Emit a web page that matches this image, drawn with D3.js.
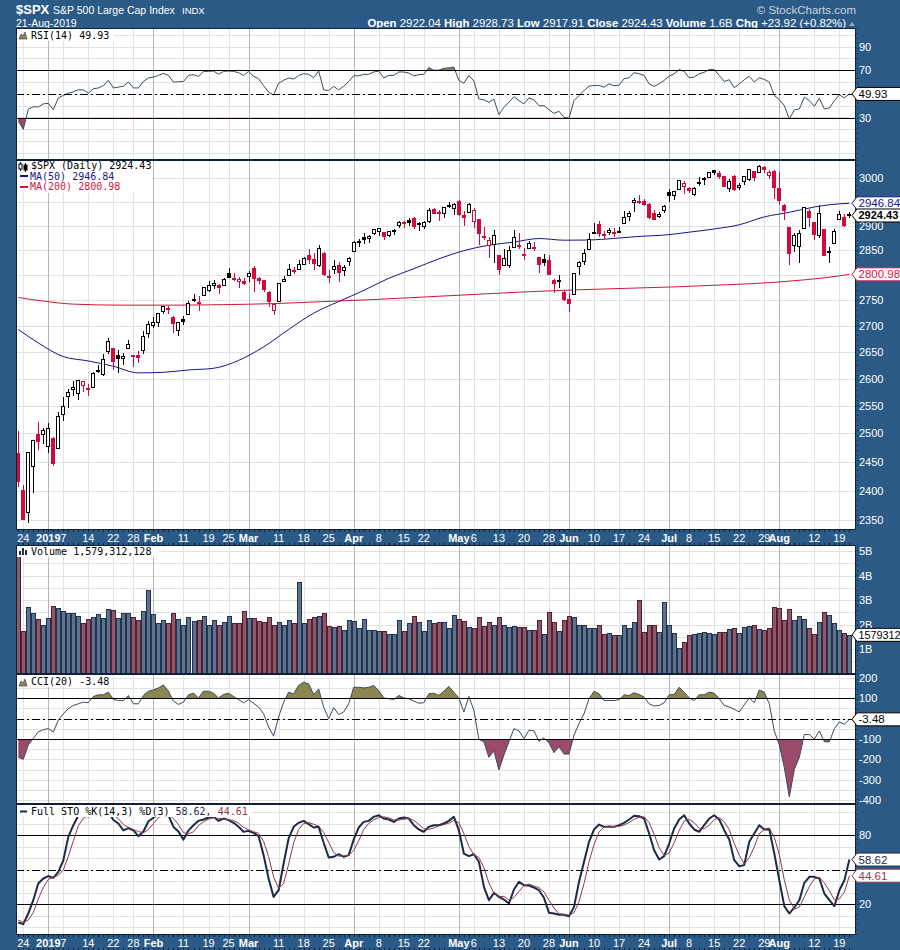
<!DOCTYPE html>
<html><head><meta charset="utf-8">
<script src="https://d3js.org/d3.v7.min.js"></script>
<style>body{margin:0;background:#fff}svg{display:block}</style>
</head><body>
<svg id="c" width="900" height="950"></svg>
<script>
// ---------------- DATA ----------------
const dates = ["2018-12-21","2018-12-24","2018-12-26","2018-12-27","2018-12-28","2018-12-31","2019-01-02","2019-01-03","2019-01-04","2019-01-07",
"2019-01-08","2019-01-09","2019-01-10","2019-01-11","2019-01-14","2019-01-15","2019-01-16","2019-01-17","2019-01-18","2019-01-22",
"2019-01-23","2019-01-24","2019-01-25","2019-01-28","2019-01-29","2019-01-30","2019-01-31","2019-02-01","2019-02-04","2019-02-05",
"2019-02-06","2019-02-07","2019-02-08","2019-02-11","2019-02-12","2019-02-13","2019-02-14","2019-02-15","2019-02-19","2019-02-20",
"2019-02-21","2019-02-22","2019-02-25","2019-02-26","2019-02-27","2019-02-28","2019-03-01","2019-03-04","2019-03-05","2019-03-06",
"2019-03-07","2019-03-08","2019-03-11","2019-03-12","2019-03-13","2019-03-14","2019-03-15","2019-03-18","2019-03-19","2019-03-20",
"2019-03-21","2019-03-22","2019-03-25","2019-03-26","2019-03-27","2019-03-28","2019-03-29","2019-04-01","2019-04-02","2019-04-03",
"2019-04-04","2019-04-05","2019-04-08","2019-04-09","2019-04-10","2019-04-11","2019-04-12","2019-04-15","2019-04-16","2019-04-17",
"2019-04-18","2019-04-22","2019-04-23","2019-04-24","2019-04-25","2019-04-26","2019-04-29","2019-04-30","2019-05-01","2019-05-02",
"2019-05-03","2019-05-06","2019-05-07","2019-05-08","2019-05-09","2019-05-10","2019-05-13","2019-05-14","2019-05-15","2019-05-16",
"2019-05-17","2019-05-20","2019-05-21","2019-05-22","2019-05-23","2019-05-24","2019-05-28","2019-05-29","2019-05-30","2019-05-31",
"2019-06-03","2019-06-04","2019-06-05","2019-06-06","2019-06-07","2019-06-10","2019-06-11","2019-06-12","2019-06-13","2019-06-14",
"2019-06-17","2019-06-18","2019-06-19","2019-06-20","2019-06-21","2019-06-24","2019-06-25","2019-06-26","2019-06-27","2019-06-28",
"2019-07-01","2019-07-02","2019-07-03","2019-07-05","2019-07-08","2019-07-09","2019-07-10","2019-07-11","2019-07-12","2019-07-15",
"2019-07-16","2019-07-17","2019-07-18","2019-07-19","2019-07-22","2019-07-23","2019-07-24","2019-07-25","2019-07-26","2019-07-29",
"2019-07-30","2019-07-31","2019-08-01","2019-08-02","2019-08-05","2019-08-06","2019-08-07","2019-08-08","2019-08-09","2019-08-12",
"2019-08-13","2019-08-14","2019-08-15","2019-08-16","2019-08-19","2019-08-20","2019-08-21"];

const open = [2465.38,2400.56,2363.12,2442.50,2498.77,2498.94,2476.96,2491.92,2474.33,2535.61,
2568.11,2580.00,2573.51,2588.11,2580.31,2585.10,2614.75,2609.28,2651.27,2657.88,
2643.48,2638.84,2657.44,2644.97,2644.89,2653.62,2685.49,2702.32,2706.49,2728.34,
2735.05,2717.53,2692.36,2712.40,2722.61,2750.30,2743.50,2760.24,2769.28,2779.05,
2780.24,2780.67,2804.35,2792.36,2787.50,2788.11,2798.22,2814.37,2794.41,2790.27,
2766.53,2730.79,2747.61,2787.34,2799.78,2810.38,2810.79,2822.61,2840.76,2831.34,
2819.72,2844.52,2796.01,2812.66,2819.72,2809.40,2828.27,2848.63,2868.24,2876.09,
2873.99,2884.16,2888.46,2886.58,2881.37,2891.92,2900.86,2908.32,2912.26,2916.04,
2904.81,2898.78,2909.99,2934.00,2928.99,2925.81,2940.58,2937.14,2952.33,2922.16,
2929.21,2908.89,2913.03,2879.61,2859.84,2863.10,2840.19,2820.12,2820.38,2855.80,
2858.60,2841.94,2854.02,2856.06,2836.70,2832.41,2830.03,2790.25,2786.94,2766.15,
2751.53,2762.64,2818.09,2828.51,2852.87,2885.83,2903.27,2882.73,2886.24,2886.82,
2889.75,2906.71,2920.55,2949.60,2952.71,2951.42,2945.78,2926.07,2919.66,2932.94,
2971.41,2964.66,2978.08,2984.25,2979.77,2965.52,2989.30,2999.62,3003.36,3017.80,
3012.13,3005.10,2978.87,3004.26,2981.93,2994.74,2998.77,3016.26,3013.25,3024.47,
3007.66,3016.22,2980.32,2943.90,2898.07,2861.18,2858.65,2896.21,2930.51,2907.07,
2880.72,2894.15,2846.20,2864.74,2913.48,2919.01,2922.04];

const high = [2504.41,2410.34,2467.76,2489.10,2520.27,2509.24,2519.49,2493.14,2538.07,2566.16,
2579.82,2595.32,2597.82,2596.27,2589.32,2613.08,2625.76,2645.06,2675.47,2657.88,
2653.19,2647.20,2672.38,2644.97,2650.93,2690.44,2708.95,2716.66,2724.99,2738.98,
2738.08,2719.32,2708.07,2718.05,2748.19,2761.85,2757.90,2775.66,2787.33,2789.88,
2781.58,2794.20,2813.49,2803.12,2795.76,2793.73,2808.02,2816.88,2796.44,2790.27,
2767.25,2744.13,2784.00,2798.32,2821.24,2815.00,2830.73,2835.41,2852.42,2843.54,
2860.31,2846.16,2809.79,2829.87,2825.56,2819.71,2836.03,2869.40,2872.90,2885.25,
2881.28,2893.24,2895.95,2886.88,2889.71,2893.42,2910.54,2909.60,2916.06,2918.00,
2908.40,2909.51,2936.31,2936.83,2933.10,2939.88,2949.52,2948.22,2954.13,2931.68,
2947.85,2937.32,2913.03,2897.96,2875.97,2891.31,2840.19,2852.54,2858.68,2892.15,
2885.48,2853.86,2868.88,2865.47,2836.70,2841.36,2840.51,2792.03,2799.00,2768.98,
2763.07,2804.49,2827.28,2852.10,2884.97,2904.77,2910.61,2888.57,2895.24,2894.45,
2897.27,2930.79,2931.74,2958.06,2964.15,2954.92,2946.52,2932.59,2929.30,2943.98,
2977.93,2973.21,2995.84,2994.03,2980.76,2981.90,3002.98,3002.33,3013.92,3017.80,
3015.02,3005.26,2998.28,3006.02,2990.71,3005.90,3019.59,3016.31,3027.98,3025.61,
3017.19,3017.40,3013.59,2945.50,2898.07,2884.40,2892.17,2938.72,2935.75,2907.58,
2943.31,2894.15,2856.67,2893.63,2931.00,2923.63,2928.73];

const low = [2408.55,2351.10,2346.58,2397.94,2472.89,2482.82,2467.47,2443.96,2474.33,2524.56,
2547.56,2568.89,2562.02,2577.40,2570.41,2585.10,2612.68,2606.36,2647.58,2617.27,
2612.86,2627.01,2657.33,2624.06,2631.05,2648.34,2678.65,2696.88,2698.75,2724.03,
2724.15,2687.26,2681.83,2703.79,2722.61,2748.63,2731.23,2760.24,2767.29,2774.06,
2764.55,2779.11,2794.99,2789.47,2775.13,2782.51,2787.38,2767.66,2782.97,2768.69,
2739.09,2722.27,2747.61,2786.73,2799.78,2803.46,2810.79,2821.99,2823.27,2812.43,
2817.38,2800.47,2785.02,2803.99,2787.72,2798.77,2819.23,2848.63,2858.75,2865.17,
2867.14,2882.99,2880.78,2873.33,2879.13,2881.99,2898.37,2896.48,2900.71,2895.45,
2891.90,2896.35,2908.53,2926.05,2912.84,2917.56,2939.35,2924.11,2923.36,2900.50,
2929.21,2898.21,2862.60,2873.28,2836.40,2825.39,2801.43,2820.12,2815.08,2855.80,
2854.23,2831.29,2854.02,2851.11,2805.49,2820.19,2801.58,2766.06,2776.74,2750.52,
2728.81,2762.64,2800.92,2822.45,2852.87,2885.51,2878.53,2874.68,2881.99,2879.62,
2887.30,2905.44,2911.43,2931.50,2946.87,2944.05,2916.01,2912.99,2918.57,2929.05,
2952.22,2955.92,2977.96,2967.97,2970.09,2963.44,2984.62,2988.80,3001.87,3008.77,
3001.15,2984.25,2973.09,2975.86,2976.65,2988.56,2996.82,2997.24,3012.59,3014.30,
3000.94,2958.08,2945.23,2914.11,2822.12,2847.42,2825.71,2894.47,2900.15,2873.14,
2877.05,2839.64,2825.51,2864.74,2913.48,2899.60,2917.91];

const close = [2416.62,2351.10,2467.70,2488.83,2485.74,2506.85,2510.03,2447.89,2531.94,2549.69,
2574.41,2584.96,2596.64,2596.26,2582.61,2610.30,2616.10,2635.96,2670.71,2632.90,
2638.70,2642.33,2664.76,2643.85,2640.00,2681.05,2704.10,2706.53,2724.87,2737.70,
2731.61,2706.05,2707.88,2709.80,2744.73,2753.03,2745.73,2775.60,2779.76,2784.70,
2774.88,2792.67,2796.11,2793.90,2792.38,2784.49,2803.69,2792.81,2789.65,2771.45,
2748.93,2743.07,2783.30,2791.52,2810.92,2808.48,2822.48,2832.94,2832.57,2824.23,
2854.88,2800.71,2798.36,2818.46,2805.37,2815.44,2834.40,2867.19,2867.24,2873.40,
2879.39,2892.74,2895.77,2878.20,2888.21,2888.32,2907.41,2905.58,2907.06,2900.45,
2905.03,2907.97,2933.68,2927.25,2926.17,2939.88,2943.03,2945.83,2923.73,2917.52,
2945.64,2932.47,2884.05,2879.42,2870.72,2881.40,2811.87,2834.41,2850.96,2876.32,
2859.53,2840.23,2864.36,2856.27,2822.24,2826.06,2802.39,2783.02,2788.86,2752.06,
2744.45,2803.27,2826.15,2843.49,2873.34,2886.73,2885.72,2879.84,2891.64,2886.98,
2889.67,2917.75,2926.46,2954.18,2950.46,2945.35,2917.38,2913.78,2924.92,2941.76,
2964.33,2973.01,2995.82,2990.41,2975.95,2979.63,2993.07,2999.91,3013.77,3014.30,
3004.04,2984.42,2995.11,2976.61,2985.03,3005.47,3019.56,3003.67,3025.86,3020.97,
3013.18,2980.38,2953.56,2932.05,2844.74,2881.77,2883.98,2938.09,2918.65,2882.70,
2926.32,2840.60,2847.60,2888.68,2923.65,2900.51,2924.43];
const priorClose = 2467.42;

// volume in billions of shares
const volumeB = [7.6,1.73,2.72,2.46,2.22,2.0,2.25,2.76,2.69,2.55,
2.46,2.46,2.35,2.05,2.21,2.31,2.41,2.25,2.62,2.58,
2.25,2.46,2.48,2.31,2.17,2.55,3.39,2.41,2.05,2.17,
2.05,2.46,2.22,2.0,2.31,2.14,2.17,2.35,2.0,2.17,
2.0,2.09,2.35,2.05,2.05,2.54,2.25,2.25,2.14,2.09,
2.31,1.97,2.09,2.0,2.17,2.05,3.72,2.05,2.22,2.31,
2.35,2.46,1.94,1.9,1.94,1.76,2.17,2.14,1.84,2.21,
1.76,1.76,1.72,1.72,1.6,1.6,2.17,1.72,2.05,2.35,
2.1,1.72,2.17,2.05,2.09,2.09,1.84,2.39,2.21,2.14,
1.9,1.84,2.31,1.94,2.09,2.0,2.31,1.97,1.9,1.94,
1.9,1.9,1.78,1.78,2.17,1.61,2.5,2.09,1.73,2.17,
2.35,2.31,2.0,1.97,1.84,1.84,2.0,1.6,1.64,1.56,
1.56,2.0,1.84,2.09,2.99,1.71,2.0,2.0,1.71,2.93,
2.0,1.64,1.05,1.27,1.56,1.6,1.64,1.71,1.64,1.6,
1.71,1.71,1.8,1.84,1.64,1.88,1.94,1.97,1.8,1.76,
1.84,2.72,2.67,2.17,2.63,2.17,2.35,2.21,1.84,1.6,
2.1,2.5,2.37,2.05,1.76,1.64,1.579];

const rsi14 = [27,20,37,39,39,41.5,42,36.6,46.6,48.6,
50.6,51.7,53.4,53.4,50.6,54.3,55,57,61.4,55,
55.7,56.5,60,55,55,60.5,63.4,64.2,65.6,67.3,
65.6,60,60.2,60.5,65.6,66.2,64.8,69,69,69.3,
66.5,69,69.3,69,67.9,65.6,69,64.8,62.8,57,
51.4,49.1,59,61.4,63.4,62.5,65.6,67,66.5,63.6,
69.3,53.4,52.8,56.3,53.4,56.3,60.5,65.3,65.3,66.5,
66.5,68.5,69.3,63.6,65.6,65.6,68.5,68.5,67.6,65.3,
66.2,66.5,72.2,70,70,71.6,71.9,72.7,61.4,59,
65.6,60.8,45.7,44.9,42.9,45.5,32.4,38.6,42.9,47.7,
44.3,41.5,46.6,44.9,40,40,36.6,33.5,35.2,30.1,
29.5,44.3,48.6,52.8,56.5,57.1,57.1,55.7,58.5,56.8,
57.4,62.8,63.6,67.9,67,65.6,58.5,56.3,58.5,61.4,
64.8,67,70.5,69,63.6,64.2,67,68.2,70.5,70.5,
65.6,60.5,61.9,55.1,58.5,61.9,64.8,60,63.6,62.2,
60,48.6,45.2,40,28.7,36.4,37.2,47.2,44.3,39.5,
46.3,37.2,38,44.3,49.1,46.6,49.93];

const cci20 = [-190,-200,-130,-97,-65,-54,-49,-65,-8,24,
49,65,73,81,78,109,117,117,130,95,
89,89,114,73,73,114,135,141,151,166,
135,86,70,81,117,125,102,135,135,125,
102,119,125,109,93,78,93,76,57,24,
-41,-86,8,81,130,122,163,179,171,119,
146,57,0,54,20,33,73,154,154,151,
154,163,138,102,98,94,114,102,98,86,
76,78,122,125,114,135,158,130,102,33,
109,41,-102,-114,-190,-159,-252,-179,-114,-49,
-60,-98,-57,-60,-111,-94,-119,-167,-138,-174,
-174,-81,-24,24,98,135,122,89,89,89,
93,117,114,127,119,106,73,62,65,78,
117,119,154,130,102,89,117,117,130,125,
98,65,57,46,33,68,102,78,141,130,
73,-60,-130,-240,-385,-250,-190,-78,-78,-101,
-60,-114,-114,-49,-16,-28,-3.48];

const stoK = [3.9,2.5,11.7,23.3,37.8,42.2,44.2,42.8,48,58,
78.4,88.5,97,98,96,99,98,99,100,93,
90,84,86,84,79,83,92,95,98,99,
97,87,83,76,84,88.5,92.3,93.5,95.2,95.8,
92.3,94.3,92.9,90.6,87.1,82.8,83.6,81.9,79,62.5,
42.2,26.2,32,55.2,77,87.1,90.6,92.3,89.4,86.5,
87.1,73.2,60.4,61,63.3,61,62.5,76.1,86.5,91.4,
92.3,95.8,97.2,94.3,93.5,91.4,94.3,95.2,94.3,88.5,
84.8,82.8,87.1,88.5,88.5,90,92.3,95.8,84.2,63.9,
61.6,63.3,56.7,34.9,23.3,29.7,26.2,23.9,20.4,32.6,
39.3,36.4,36.1,34.3,32,25.4,12.3,11.7,10.6,10.6,
9.4,17.5,39.3,56.7,74.1,84.8,89.1,87.1,87.1,87.1,
88.5,90.6,93.5,96.7,96.4,94.3,81.3,66.8,58.7,61.6,
72.6,85.7,93.5,97.2,90,84.8,82.8,88.5,94.3,97.2,
93.5,84.2,76.1,58.1,52.9,53.8,74.1,81.3,88.5,84.8,
85.1,63.9,40.7,18.1,11.7,17,23.3,38.4,43.6,43.6,
42.2,29.1,23.3,18.1,32,40.7,58.62];

const stoD = [6,4,6.0,12.5,24.3,34.4,41.4,43.1,45,49.6,
61.5,75,88,94.5,97,97.7,97.7,98.7,99,97.3,
94.3,89,86.7,84.7,83,82,84.7,90,95,97.3,
98,94.3,89,82,81,82.8,88.3,91.4,93.7,94.8,
94.4,94.1,93.2,92.6,90.2,86.8,84.5,82.8,81.5,74.5,
61.2,43.6,33.5,37.8,54.7,73.1,84.9,90,90.8,89.4,
87.7,82.3,73.6,64.9,61.6,61.8,62.3,66.5,75,84.7,
90.1,93.2,95.1,95.8,95,93.1,93.1,93.6,94.6,92.7,
89.2,85.4,84.9,86.1,88,89,90.3,92.7,90.8,81.3,
69.9,62.9,60.5,51.6,38.3,29.3,26.4,26.6,23.5,25.6,
30.8,36.1,37.3,35.6,34.1,30.6,23.2,16.5,11.5,11,
10.2,12.5,22.1,37.8,56.7,71.9,82.7,87,87.8,87.1,
87.6,88.7,90.9,93.6,95.5,95.8,90.7,80.8,68.9,62.4,
64.3,73.3,83.9,92.1,93.6,90.7,85.9,85.4,88.5,93.3,
95,91.6,84.6,72.8,62.4,54.9,60.3,69.7,81.3,84.9,
86.1,77.9,63.2,40.9,23.5,15.6,17.3,26.2,35.1,41.9,
43.1,38.3,31.5,23.5,24.5,30.3,44.61];

// moving averages, read at sample dates
const ma50Dates = ["2018-12-21","2018-12-28","2019-01-07","2019-01-14","2019-01-22","2019-01-29","2019-02-05","2019-02-12","2019-02-20","2019-02-27",
"2019-03-06","2019-03-13","2019-03-20","2019-03-27","2019-04-03","2019-04-10","2019-04-17","2019-04-25","2019-05-02","2019-05-09",
"2019-05-16","2019-05-23","2019-05-31","2019-06-07","2019-06-14","2019-06-21","2019-06-28","2019-07-08","2019-07-15","2019-07-22",
"2019-07-29","2019-08-05","2019-08-12","2019-08-19","2019-08-21"];
const ma50Vals = [2693,2667.0,2641.1,2632.9,2622.9,2610.5,2611.6,2616.0,2619.1,2633.9,
2659.4,2692.8,2724.3,2747.1,2769.0,2793.1,2812.2,2832.2,2848.8,2860.0,
2866.3,2873.6,2870.2,2870.5,2873.9,2878.0,2880.7,2886.7,2893.3,2902.0,
2918.4,2928.0,2939.1,2945.8,2946.84];
const ma200Dates = ["2018-12-21","2018-12-31","2019-01-09","2019-01-24","2019-02-07","2019-02-22","2019-03-08","2019-03-22","2019-04-05","2019-04-22",
"2019-05-06","2019-05-20","2019-06-04","2019-06-18","2019-07-02","2019-07-17","2019-07-31","2019-08-08","2019-08-14","2019-08-21"];
const ma200Vals = [2755,2748,2742,2740,2740,2741,2743,2747,2751,2756,
2761,2766,2770,2773,2776,2780,2785,2790,2794,2800.98];

// axis labels that are visible (others hidden behind value boxes)
const priceGridTicks = [2350,2400,2450,2500,2550,2600,2650,2700,2750,2800,2850,2900,2950,3000];
const priceLabelTicks = [2350,2400,2450,2500,2550,2600,2650,2700,2750,2850,2900,3000];
const rsiTicks = [90,70,30];
const volTicks = [1,2,3,4,5];
const cciTicks = [200,100,-100,-200,-300,-400];
const stoTicks = [80,20];
const xTickDates = ["2018-12-24","2019-01-02","2019-01-07","2019-01-14","2019-01-22","2019-01-28","2019-02-01","2019-02-11","2019-02-19","2019-02-25",
"2019-03-01","2019-03-11","2019-03-18","2019-03-25","2019-04-01","2019-04-08","2019-04-15","2019-04-22","2019-05-01","2019-05-06",
"2019-05-13","2019-05-20","2019-05-28","2019-06-03","2019-06-10","2019-06-17","2019-06-24","2019-07-01","2019-07-08","2019-07-15",
"2019-07-22","2019-07-29","2019-08-01","2019-08-12","2019-08-19"];
const xTickText = ["24","2019","7","14","22","28","Feb","11","19","25",
"Mar","11","18","25","Apr","8","15","22","May","6",
"13","20","28","Jun","10","17","24","Jul","8","15",
"22","29","Aug","12","19"];

// ---------------- STYLE ----------------
const BG = "#2b5a87", GRID = "#e2e2e2", GRIDM = "#b5b5b5", BORDER = "#0d2238";
const RED = "#d3093b", NAVY = "#151590", MA200C = "#d3133f";
const OLIVE = "#8b8550", MAUVE = "#9b4a6c", LINEC = "#3a4c60";
const KC = "#1c2b45", DC = "#8e3b4b";
const SANS = "'Liberation Sans', Arial, sans-serif", MONO = "'DejaVu Sans Mono', monospace";
const PL = 16, PR = 856;
const P = {rsi:[28,160], price:[160,530], vol:[545,674], cci:[674,804], sto:[804,935]};

const svg = d3.select("#c");
svg.append("rect").attr("width",900).attr("height",950).attr("fill",BG);
const defs = svg.append("defs");

// ---------------- SCALES ----------------
const x = d3.scalePoint().domain(dates).range([18.26, 849.4]);
const X = d => Math.round(x(d));
const yRsi = d3.scaleLinear().domain([30,70]).range([117.5,70.2]);
const yPrice = d3.scaleLog().domain([2350,3000]).range([520,178.3]);
const yVol = d3.scaleLinear().domain([0,1]).range([673.5,649]);
const yCci = d3.scaleLinear().domain([-100,100]).range([739,698.3]);
const ySto = d3.scaleLinear().domain([20,80]).range([904,835]);
const cr = v => Math.round(v)+0.5;

// ---------------- HEADER ----------------
const hd = svg.append("g").attr("fill","#fff").attr("font-family",SANS);
hd.append("text").attr("x",16).attr("y",14).attr("font-size",13).attr("font-weight","bold").text("$SPX");
hd.append("text").attr("x",53).attr("y",14).attr("font-size",10.5).text("S&P 500 Large Cap Index");
hd.append("text").attr("x",182).attr("y",13.5).attr("font-size",9.5).text("INDX");
hd.append("text").attr("x",16).attr("y",27).attr("font-size",10.5).text("21-Aug-2019");
const hq = hd.append("text").attr("x",846).attr("y",27).attr("font-size",11.4).attr("text-anchor","end");
const hdrParts = [["Open"," 2922.04  "],["High"," 2928.73  "],["Low"," 2917.91  "],["Close"," 2924.43  "],["Volume"," 1.6B  "],["Chg"," +23.92 (+0.82%)"]];
hdrParts.forEach(p=>{hq.append("tspan").attr("font-weight","bold").text(p[0]);hq.append("tspan").text(p[1]);});
hd.append("path").attr("d","M849,26 L852,22 L855,26 Z").attr("fill","#9aa9b8");
hd.append("text").attr("x",856).attr("y",13.5).attr("font-size",11.5).attr("text-anchor","end").attr("fill","#c6d3df").text("\u00A9 StockCharts.com");

// ---------------- PANELS ----------------
Object.entries(P).forEach(([k,[t,b]])=>{
  svg.append("rect").attr("x",PL).attr("y",t).attr("width",PR-PL).attr("height",b-t).attr("fill","#fff");
  defs.append("clipPath").attr("id","clip-"+k).append("rect").attr("x",PL).attr("y",t).attr("width",PR-PL).attr("height",b-t);
});
function isMajor(i){ return isNaN(+xTickText[i]) || xTickText[i]==="2019"; }
function vgrid(k){
  const [t,b]=P[k];
  svg.append("g").selectAll("line").data(xTickDates).join("line")
    .attr("x1",d=>X(d)+0.5).attr("x2",d=>X(d)+0.5).attr("y1",t).attr("y2",b)
    .attr("stroke",(d,i)=>isMajor(i)?GRIDM:GRID).attr("stroke-width",1);
}
function hgrid(k, vals, sc){
  svg.append("g").attr("clip-path","url(#clip-"+k+")").selectAll("line").data(vals).join("line")
    .attr("x1",PL).attr("x2",PR).attr("y1",d=>cr(sc(d))).attr("y2",d=>cr(sc(d))).attr("stroke",GRID);
}
hgrid("rsi", d3.range(0,101,10), yRsi);
hgrid("price", priceGridTicks, yPrice);
hgrid("vol", d3.range(0.5,5.6,0.5), yVol);
hgrid("cci", d3.range(-400,201,50), yCci);
hgrid("sto", d3.range(0,101,10), ySto);
Object.keys(P).forEach(vgrid);

function hline(y, dash){
  svg.append("line").attr("x1",PL).attr("x2",PR).attr("y1",cr(y)).attr("y2",cr(y))
    .attr("stroke","#000").attr("stroke-width",1).attr("stroke-dasharray",dash?"8,3,2,3":null);
}

// ---------------- RSI ----------------
const gR = svg.append("g").attr("clip-path","url(#clip-rsi)");
defs.append("clipPath").attr("id","rsiHi").append("rect").attr("x",PL).attr("y",P.rsi[0]).attr("width",PR-PL).attr("height",yRsi(70)-P.rsi[0]);
defs.append("clipPath").attr("id","rsiLo").append("rect").attr("x",PL).attr("y",yRsi(30)).attr("width",PR-PL).attr("height",P.rsi[1]-yRsi(30));
gR.append("g").attr("clip-path","url(#rsiHi)").append("path").datum(rsi14)
  .attr("d",d3.area().x((d,i)=>x(dates[i])).y0(yRsi(70)).y1(d=>yRsi(d))).attr("fill",OLIVE);
gR.append("g").attr("clip-path","url(#rsiLo)").append("path").datum(rsi14)
  .attr("d",d3.area().x((d,i)=>x(dates[i])).y0(yRsi(30)).y1(d=>yRsi(d))).attr("fill",MAUVE);
hline(yRsi(70)); hline(yRsi(30)); hline(yRsi(50),true);
gR.append("path").datum(rsi14).attr("d",d3.line().x((d,i)=>x(dates[i])).y(d=>yRsi(d)))
  .attr("fill","none").attr("stroke",LINEC).attr("stroke-width",1);

// ---------------- PRICE ----------------
const gP = svg.append("g").attr("clip-path","url(#clip-price)");
gP.append("path").datum(ma200Vals).attr("d",d3.line().curve(d3.curveMonotoneX).x((d,i)=>x(ma200Dates[i])).y(d=>yPrice(d)))
  .attr("fill","none").attr("stroke",MA200C).attr("stroke-width",1);
gP.append("path").datum(ma50Vals).attr("d",d3.line().curve(d3.curveMonotoneX).x((d,i)=>x(ma50Dates[i])).y(d=>yPrice(d)))
  .attr("fill","none").attr("stroke",NAVY).attr("stroke-width",1);
const rows = dates.map((d,i)=>({d, o:open[i], h:high[i], l:low[i], c:close[i], pc: i? close[i-1] : priorClose}));
const cg = gP.append("g").selectAll("g").data(rows).join("g");
cg.append("line").attr("x1",r=>X(r.d)+0.5).attr("x2",r=>X(r.d)+0.5)
  .attr("y1",r=>Math.round(yPrice(r.h))).attr("y2",r=>Math.round(yPrice(r.l))+1)
  .attr("stroke",r=>r.c>=r.pc?"#000":RED);
cg.append("rect").attr("x",r=>X(r.d)-1.5).attr("width",3)
  .attr("y",r=>Math.round(yPrice(Math.max(r.o,r.c)))+0.5)
  .attr("height",r=>Math.max(1,Math.round(yPrice(Math.min(r.o,r.c)))-Math.round(yPrice(Math.max(r.o,r.c)))))
  .attr("fill",r=>r.c>r.o?"#fff":(r.c>=r.pc?"#000":RED))
  .attr("stroke",r=>r.c>=r.pc?"#000":RED).attr("stroke-width",1);

// ---------------- VOLUME ----------------
const gV = svg.append("g").attr("clip-path","url(#clip-vol)");
gV.selectAll("rect").data(rows).join("rect")
  .attr("x",r=>X(r.d)-1.5).attr("width",4)
  .attr("y",(r,i)=>Math.round(yVol(volumeB[i]))+0.5)
  .attr("height",(r,i)=>P.vol[1]-Math.round(yVol(volumeB[i])))
  .attr("fill",r=>r.c>=r.pc?"#5e7389":"#8b5a6a")
  .attr("stroke",r=>r.c>=r.pc?"#1e3452":"#5a1c33").attr("stroke-width",1);

// ---------------- CCI ----------------
const gC = svg.append("g").attr("clip-path","url(#clip-cci)");
defs.append("clipPath").attr("id","cciHi").append("rect").attr("x",PL).attr("y",P.cci[0]).attr("width",PR-PL).attr("height",yCci(100)-P.cci[0]);
defs.append("clipPath").attr("id","cciLo").append("rect").attr("x",PL).attr("y",yCci(-100)).attr("width",PR-PL).attr("height",P.cci[1]-yCci(-100));
gC.append("g").attr("clip-path","url(#cciHi)").append("path").datum(cci20)
  .attr("d",d3.area().x((d,i)=>x(dates[i])).y0(yCci(100)).y1(d=>yCci(d))).attr("fill",OLIVE);
gC.append("g").attr("clip-path","url(#cciLo)").append("path").datum(cci20)
  .attr("d",d3.area().x((d,i)=>x(dates[i])).y0(yCci(-100)).y1(d=>yCci(d))).attr("fill",MAUVE);
hline(yCci(100)); hline(yCci(-100)); hline(yCci(0),true);
gC.append("path").datum(cci20).attr("d",d3.line().x((d,i)=>x(dates[i])).y(d=>yCci(d)))
  .attr("fill","none").attr("stroke",LINEC).attr("stroke-width",1);

// ---------------- STO ----------------
hline(ySto(80)); hline(ySto(20)); hline(ySto(50),true);
const gS = svg.append("g").attr("clip-path","url(#clip-sto)");
gS.append("path").datum(stoK).attr("d",d3.line().x((d,i)=>x(dates[i])).y(d=>ySto(d)))
  .attr("fill","none").attr("stroke",KC).attr("stroke-width",2).attr("stroke-linejoin","round");
gS.append("path").datum(stoD).attr("d",d3.line().x((d,i)=>x(dates[i])).y(d=>ySto(d)))
  .attr("fill","none").attr("stroke",DC).attr("stroke-width",1);

// ---------------- LEGENDS ----------------
function legendBox(x0,y0,w,h){svg.append("rect").attr("x",x0).attr("y",y0).attr("width",w).attr("height",h).attr("fill","#fff");}
function mtxt(xp,yp,s,col){return svg.append("text").attr("x",xp).attr("y",yp).attr("font-family",MONO).attr("font-size",10).attr("fill",col||"#000").text(s);}
function mountain(x0,yb,col){svg.append("path").attr("d",`M${x0},${yb} L${x0+2},${yb-5} L${x0+4},${yb-3} L${x0+6},${yb-7} L${x0+8},${yb} Z`).attr("fill",col).attr("stroke","#333").attr("stroke-width",0.6);}
legendBox(17,29,97,12); mountain(19,39,OLIVE); mtxt(31,38.5,"RSI(14) 49.93");
legendBox(17,161,134,32);
svg.append("path").attr("d","M20.5,162 V171 M25.5,163 V172").attr("stroke","#000");
svg.append("rect").attr("x",19).attr("y",164).attr("width",3).attr("height",5).attr("fill","#fff").attr("stroke","#000");
svg.append("rect").attr("x",24).attr("y",165).attr("width",3).attr("height",5).attr("fill","#000").attr("stroke","#000");
mtxt(31,168.5,"$SPX (Daily) 2924.43");
svg.append("line").attr("x1",20).attr("x2",28).attr("y1",176).attr("y2",176).attr("stroke",NAVY).attr("stroke-width",2);
mtxt(30,179.5,"MA(50) 2946.84",NAVY);
svg.append("line").attr("x1",20).attr("x2",28).attr("y1",187).attr("y2",187).attr("stroke",MA200C).attr("stroke-width",2);
mtxt(30,190,"MA(200) 2800.98",MA200C);
legendBox(17,546,142,11);
svg.append("path").attr("d","M20,555 V551 M23,555 V548 M26,555 V550").attr("stroke","#1e3452").attr("stroke-width",2);
mtxt(31,555,"Volume 1,579,312,128");
legendBox(17,675,94,12); mountain(19,686,OLIVE); mtxt(31,685,"CCI(20) -3.48");
legendBox(17,805,234,12);
svg.append("line").attr("x1",20).attr("x2",27).attr("y1",811.5).attr("y2",811.5).attr("stroke",KC).attr("stroke-width",2);
const st = mtxt(31,815,"Full STO %K(14,3) %D(3) ");
st.append("tspan").attr("fill",KC).text("58.62, ");
st.append("tspan").attr("fill",DC).text("44.61");

// ---------------- BORDERS ----------------
Object.values(P).forEach(([t,b])=>{
  svg.append("rect").attr("x",PL+0.5).attr("y",t+0.5).attr("width",PR-PL-1).attr("height",b-t-1)
    .attr("fill","none").attr("stroke",BORDER).attr("stroke-width",1);
});

// ---------------- AXES (right) ----------------
function rlabels(vals, sc, fmt){
  svg.append("g").selectAll("text").data(vals).join("text")
    .attr("x",859).attr("y",d=>sc(d)+4).attr("font-family",SANS).attr("font-size",11).attr("fill","#fff").text(fmt);
}
rlabels(rsiTicks, yRsi, d=>d);
rlabels(priceLabelTicks, yPrice, d=>d);
rlabels(volTicks, yVol, d=>d+"B");
rlabels(cciTicks, yCci, d=>d);
rlabels(stoTicks, ySto, d=>d);
Object.values(P).forEach(([t,b])=>{
  svg.append("line").attr("x1",857.5).attr("x2",857.5).attr("y1",t).attr("y2",b)
    .attr("stroke","#0d2238").attr("stroke-dasharray","1,4");
});

// ---------------- VALUE BOXES ----------------
function vbox(y, s, col, bold, fs){
  const g = svg.append("g");
  g.append("path").attr("d",`M852,${y} L857,${y-6.5} L903,${y-6.5} L903,${y+6.5} L857,${y+6.5} Z`)
    .attr("fill","#fff").attr("stroke",col).attr("stroke-width",1);
  g.append("text").attr("x",858.5).attr("y",y+4).attr("font-family",SANS).attr("font-size",fs||11.5)
    .attr("font-weight",bold?"bold":null).attr("fill",col).text(s);
}
vbox(yRsi(49.93),"49.93","#000");
vbox(yPrice(2946.84),"2946.84",NAVY);
vbox(yPrice(2800.98),"2800.98",MA200C);
vbox(yPrice(2924.43)+1.5,"2924.43","#000",true,11);
vbox(yVol(1.579),"1579312","#000",false,10.8);
vbox(yCci(-3.48),"-3.48","#000");
vbox(ySto(58.62),"58.62",KC);
vbox(ySto(44.61),"44.61",DC);

// ---------------- X AXES ----------------
function xaxis(top){
  const g = svg.append("g");
  g.selectAll("line.t").data(dates).join("line")
    .attr("x1",d=>X(d)+0.5).attr("x2",d=>X(d)+0.5).attr("y1",top).attr("y2",top+2).attr("stroke","#0d2238");
  g.selectAll("line.b").data(dates).join("line")
    .attr("x1",d=>X(d)+0.5).attr("x2",d=>X(d)+0.5).attr("y1",top+13).attr("y2",top+15).attr("stroke","#0d2238");
  g.selectAll("text").data(xTickDates).join("text")
    .attr("x",d=>x(d)).attr("y",top+11.5).attr("text-anchor","middle")
    .attr("font-family",SANS).attr("font-size",11).attr("fill","#fff")
    .attr("font-weight",(d,i)=>isMajor(i)?"bold":null)
    .text((d,i)=>xTickText[i]);
}
xaxis(530); xaxis(935);
</script>
</body></html>
